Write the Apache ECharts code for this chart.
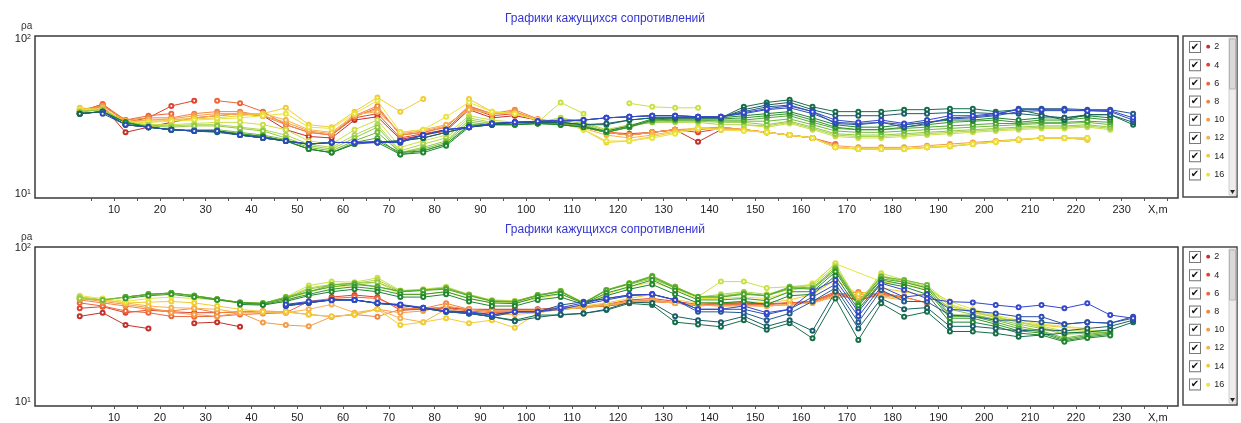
<!DOCTYPE html>
<html>
<head>
<meta charset="utf-8">
<script src="https://cdn.jsdelivr.net/npm/echarts@6/dist/echarts.min.js"></script>
<style>
html, body { margin: 0; padding: 0; background: #fff; }
#chart { width: 1241px; height: 423px; }
</style>
</head>
<body>
<div id="chart"></div>
<script>
// profile positions, m
var xs = [2.5, 7.5, 12.5, 17.5, 22.5, 27.5, 32.5, 37.5, 42.5, 47.5,
          52.5, 57.5, 62.5, 67.5, 72.5, 77.5, 82.5, 87.5, 92.5, 97.5,
          102.5, 107.5, 112.5, 117.5, 122.5, 127.5, 132.5, 137.5, 142.5, 147.5,
          152.5, 157.5, 162.5, 167.5, 172.5, 177.5, 182.5, 187.5, 192.5, 197.5,
          202.5, 207.5, 212.5, 217.5, 222.5, 227.5, 232.5];

var names = ['2', '4', '6', '8', '10', '12', '14', '16', '18', '20',
             '22', '24', '26', '28', '30', '32', '34', '36', '38', '40'];
var colors = ['#c4302c', '#e2422e', '#ec663a', '#f08440', '#f49c46', '#f5b24e', '#f2cc32', '#e8e43a', '#cce046', '#b0d64a',
              '#92ca44', '#72ba3c', '#50a834', '#34962c', '#1f8530', '#166e48', '#1a5f66', '#255a8e', '#2c4eb2', '#3446cc'];
var legendNames = names.slice(0, 8);

var xLabels = [10, 20, 30, 40, 50, 60, 70, 80, 90, 100, 110, 120, 130, 140, 150, 160, 170, 180, 190, 200, 210, 220, 230];
var xTicks = [5, 10, 15, 20, 25, 30, 35, 40, 45, 50, 55, 60, 65, 70, 75, 80, 85, 90, 95, 100, 105, 110, 115, 120,
              125, 130, 135, 140, 145, 150, 155, 160, 165, 170, 175, 180, 185, 190, 195, 200, 205, 210, 215, 220,
              225, 230, 235, 240];

// ---- upper panel, apparent resistivity
var top2 = [33,37,25,27,29,31,32,33,32,26,
  23.5,23,30,31.5,22.5,24,25.5,35,31,32,
  30,28,27,25,24,25,26,21.7,26,26,
  25,24,23,null,null,null,null,null,null,null,
  null,null,null,null,null,null,null];
var top4 = [34,38,29,31,37,40,null,null,null,null,
  null,24,31,33,23,24.5,26,36,32,33,
  30,28,27,25,24.5,25,26,25,26.5,26,
  25,24,23,null,null,null,null,null,null,null,
  null,null,null,null,null,null,null];
var top6 = [34,38,30,32,33,null,40,38.5,34,28,
  25,24,31.5,36,24,25,27,37,33,34,
  30,28.5,27,25,24,25,26,26,27,26,
  25,24,23,21,null,null,null,null,null,null,
  null,null,null,null,null,null,null];
var top8 = [35,37,30,31,31,33,34,34,32,28,
  25,24,32,37,24,25,27,36.5,33,35,
  30.5,29,27,25,24,25,26,26,27,26,
  25,24,23,20,19.5,19.5,19.5,20,20.3,21,
  21.7,22.3,23,23,22.5,null,null];
var top10 = [34,37,29.5,30,30.5,32,33,33,32,29,
  25.5,24.5,32,35,24.5,25.5,27.5,36,33,34,
  30,29,27,25,24,25,26,26.5,27,26,
  25,24,23,20.5,20,20,20,20.5,21,21.5,
  22,22.5,23,23,23,null,null];
var top12 = [35,36,29,30,30,31,32,33,33,30,
  26,25,32.5,34,25,26,28,35,33,33,
  30,29,26.5,24,23,24,25.5,26.5,26.5,26,
  25,24,23,20,19.5,19.5,19.5,20,20.3,21,
  21.7,22.3,23,23,22.5,null,null];
var top14 = [36,35,29.5,29,30,30.5,31,32,33,36,
  28,27,34,42,34,41,null,41,34,33,
  30,29,26,21.5,22,23.5,25,27,26,26,
  25,24,23,20,19.5,19.5,19.5,20,20.3,21,
  21.7,22.3,23,23,22.5,null,null];
var top16 = [35,35,29,29,29.5,30,30.5,31,32,33,
  27,26.5,33,40,25,26,31.5,39,34,33,
  30,29,26,22,22,23,24.5,26.5,26,25.5,
  25,24,23,20,19.5,19.5,19.5,20,20.5,21,
  21.7,22.5,23,23,23,null,null];
var top18 = [34,35,29,28,28,28.5,29,29,28,26,
  22,21,26,30,20,22,24,32,30,29,
  29,39,33,null,38.5,36.5,36,36,null,28,
  27,28.5,26,23.5,23,23,23.5,24,24.5,25,
  25.5,26,26.5,26.5,27,26,null];
var top20 = [34,35,29,28,27.5,28,28,27,26,24,
  21,20,24,28,19,21,23,31,29,29,
  29,31,29,26,28,29,29,29,28,28,
  27.5,29,26.5,24,23.5,23.5,24,24.5,25,25.5,
  26,26.5,27,27,27.5,26.5,null];
var top22 = [34,35,29,27.5,27,27.5,27.5,26.5,25.5,23,
  20.5,19.5,23,27,18.5,20,22,30,28.5,29,
  28.5,30,28.5,25.5,27.5,29,29.5,29.5,29,29,
  28,29.5,27,24.5,24,24,24.5,25,25.5,26,
  26.5,27,27.5,27.5,28,27,null];
var top24 = [33,34,29,27,26,26,26,25,24,22.5,
  20,19,22,25,18.5,19.5,21.5,29,28,28.5,
  28.5,29,28,25,27,29.5,30,30,29.5,29.5,
  29.5,30.5,28,25.5,25,25,25.5,26,26.5,27,
  27.5,28,28.5,28.5,29,28,null];
var top26 = [33,34,29,27,26,25.5,25.5,24.5,23.5,22,
  19.5,18.5,21.5,23,18,19,21,28,28,28,
  28.5,28.5,27.5,25,27,30,30,30,30,30,
  31,32,29,26.5,26,26,26.5,27,27.5,28,
  28.5,28.5,29,29,29.5,29,null];
var top28 = [33,34,29,27,26,25.5,25.5,24.5,23.5,22,
  19.5,18.5,21,22,18.5,19,21,27.5,28,28,
  28.5,28,27,25,27,30,30.5,30.5,30.5,31,
  32,33,30,27,26,26,27,28,29,29.5,
  30,29,30,30,31,30,null];
var top30 = [33,34,29,27,26,25.5,25.5,24,23.5,22,
  19.5,18.5,21,21.5,18,18.5,20.5,27,28,28,
  28.5,28,27,25.5,27.5,30.5,31,31,31,32,
  33,34,31,28,27,27,28,29,30,30,
  31,30,31,31,32,31,null];
var top32 = [33,34,28,27,26,25.5,25.5,24,23,22,
  21,21.5,21.5,21.7,22,23,25,27,28,29,
  29,29,28,28,30,31,31,31,31,36.5,
  39,40.5,36.5,34,34,34,35,35,35.5,35.5,
  34,35,32.5,30,32.5,32.5,28];
var top34 = [33,34,28,27,26,25.5,25,24,23,22,
  21,21.5,21.5,21.7,22,23,25,27,28,29,
  29,29,28,28.5,30,31,31,31,31,35,
  37.5,39,35,32,32,32,33,33,33.5,33.5,
  33,33,32,31,32.5,32.5,29];
var top36 = [null,34,28,27,26,25.5,25.5,24,23,22,
  21,21.5,21.5,21.5,21.5,24,26,27,28.5,29,
  29.5,29.5,30,31,31.5,32,32,31.5,31.5,34,
  36.5,37.5,34,28.5,28,29,27,28.5,31,31.5,
  32.5,35.5,35.5,35.5,35,35,33];
var top38 = [null,33,28,27,26,25.5,25.5,24,23,22,
  21,21.5,21.5,21.5,21.5,24,26,27,28.5,29,
  29.5,29.5,30,31,31.5,32,32,31.5,31.5,33,
  35,36,33,29,28.5,29,28,29,30.5,31,
  32,34,34.5,34.5,34.5,34,30];
var top40 = [null,null,null,null,null,null,null,null,null,null,
  null,21.5,21.5,21.5,22,24,26,27,28.5,29,
  29.5,30,30,31,31.5,32,32,31.5,31.5,33.5,
  35.5,37,34,30,29,30,28.5,30,32,32,
  33,35,35,35,34.5,34.5,31];

// ---- lower panel, apparent resistivity
var bot2 = [36,38,31.6,30,null,32.5,33,30.8,null,null,
  null,null,null,null,39.5,40,41,40,40,40,
  40,41,41.5,42,44,45,44,42.6,43.7,44,
  43,44,44.8,50,46,50,48,null,null,null,
  null,null,null,null,null,null,null];
var bot4 = [40.6,41.6,38,39.5,38.5,38,38,38.5,38.5,38.5,
  null,48,49.5,48,39.5,40.6,41,40,39,39,
  39,40,41,43,46,47,45,43,43.7,44,
  43.5,44,45,52,45,52,47,null,null,null,
  null,null,null,null,null,null,null];
var bot6 = [44,42,39,38,36,35.8,36,37,37.5,38,
  45,47,48,47,41,40,40.5,39,38,38.5,
  39,40,41,42,44,45,44,42,43,43,
  43,44,45,51,48,51,48,44,null,null,
  null,null,null,null,null,null,null];
var bot8 = [46,44,42,40,39,40.6,38,38.5,39,38.5,
  37,35.8,37,35.8,40,40.5,43.7,40,38.5,38.5,
  38.5,40,41.5,43,45,46,44,42.6,42.5,42.5,
  42,43,44.8,50,51.7,50,48,44,null,null,
  null,null,null,null,null,null,null];
var bot10 = [47,45,43,41,38,37,36,38,32.8,31.6,
  31,35.8,37,40,38,39,42,40,39,39,
  39.5,40.5,41.5,43,45,46,44,43,42,42.5,
  42,43,44,49,50,49,47,null,null,null,
  null,null,null,null,null,null,null];
var bot12 = [47,46,44,42,41,40.6,40,38,38,38,
  40,43,38,40,35,33,40,38,37,37,
  38,40,41,42.5,44,45,44,42.5,42,42,
  42,43,44,48,48,48,46,null,null,null,
  null,null,null,null,null,null,null];
var bot14 = [48,46,44,44.5,45,44,42,40,38.5,38.5,
  37,36,37,40,31.6,33,35,32.5,34,30.3,
  38,40,42,44,47,50,46,44,44,45,
  44,46,50,62,50,55,52,49,41.6,38,
  35.5,33,31.5,30.5,30,null,null];
var bot16 = [49,47,45,47,48,47,46,44,43,45,
  52,56,57,60,50,50,52,47,44,44,
  47,50,44,50,56,60,54,47,47,48,
  47,52,59,79,null,60.5,58,54,45,40,
  36.5,34,32,31,30,null,null];
var bot18 = [48,46,48,50,51,49,46.5,44.3,43.7,48,
  57,60.5,60,64,53,54,56,50,46,45.5,
  49,52.5,44.5,53.4,59,65,56,48.3,60.5,60.5,
  55,56,58,79.5,44,68.5,62,57.5,43,39,
  36,33,31,29,29,29.4,null];
var bot20 = [48,46,48,50,51,49,46.5,44.3,43.7,47.5,
  55,58,59,62,52.5,53.4,55,49.5,45.3,44.8,
  49.5,52.5,43.7,53.4,59,64,56,48,50,52,
  50,55,57,76,45,66,61,56,42,38.5,
  35.5,33,30.5,28,28.5,29,null];
var bot22 = [47,46,48,50,51,49,46.5,44,43.5,47,
  54,57.5,59,60,52,53,55,49.5,45.5,45,
  49.5,52,44,53,58,63,55,48,49,50.8,
  49,54,55,74,44,65,60,55,40,37,
  34.5,32,30,27.5,28,28.5,null];
var bot24 = [null,46,48,50,51,49,46.5,44.3,43.7,48,
  52,57.5,59,56,52.5,53.4,55,49.5,45.3,44.8,
  49.5,52.5,43.7,53.4,59,66,56,48.3,48,50.8,
  49,56,55,73.8,43.7,65,62,57.5,36.7,36.7,
  34,31,29,26,27.5,28.5,null];
var bot26 = [null,null,48,50,51,49,46.5,44.3,43.7,47,
  52,56,58,56,52,53,54,49,45,44.5,
  49,52,44,53,58.5,65,55,48,48,50,
  49,55,54,72,43,63,60,55,36,36,
  33,30,28.5,25.5,27,28,null];
var bot28 = [null,null,47,49,50,48,46,44,43,46,
  50,54,56,54,50,50,52,47,44,43.5,
  48,50.5,43.5,51,56,62,53,46,46,47,
  45.5,52,52,70,42,62,58,53,35,35,
  32,29,28,25,26.5,27.5,null];
var bot30 = [null,null,null,null,null,null,null,43,42.6,45,
  49,52,54,52,48,48,50,45,42,42,
  46,48,43,49,54,58,50,44,44,45,
  43,49,50,66,40,60,56,50,33,33,
  31,28,27.2,24.6,26,27,null];
var bot32 = [null,null,null,null,null,null,null,null,null,42.6,
  44.3,46,46,43.7,42.6,40.6,38.5,37.6,35.8,34,
  36.7,36.7,37.6,39.5,43.7,42.6,33,31.9,30.8,34,
  29.4,32.5,25.9,47,25.3,43.7,35.8,38.5,28.7,28.7,
  27.9,26.5,27.2,28,28.5,29.4,33];
var bot34 = [null,null,null,null,null,null,null,null,null,42,
  44,46,46,43.7,42.6,40.6,38.5,37.6,35.8,33.5,
  35.5,37,37.6,40,44.5,44,36,34,33,36,
  31,34,29,52,30,47,40,41,31,31,
  30,29,29.5,29,30,31,34];
var bot36 = [null,null,null,null,null,null,null,null,null,42.6,
  44.3,46,46,43.7,42.6,40.6,38.5,37.6,35.8,38.5,
  38.5,42.6,44.8,47,49.5,50,46,38.5,38.5,38,
  34,37.6,45,55,33,53.4,45,44.8,36.7,36,
  34,34,33,32,33,32.5,35];
var bot38 = [null,null,null,null,null,null,null,null,null,42,
  44,46,46,43.7,42.6,41,39,38,36.7,38.5,
  38.5,40,43,46,49,50,46,40,40,40,
  37,40,48,58,36,56,48,50,40,39,
  37.6,35.8,35.8,32,33,32.5,35.8];
var bot40 = [null,null,null,null,null,null,null,null,null,43,
  45,46,46,44,43,41,39,38.5,37,38.5,
  38.5,41,44,47,49.5,50,46,40,40,42,
  38,40,52.5,62,38.5,59,53.4,47,44.8,44.3,
  42.6,41.2,42.6,40.6,43.7,36.7,35];

var topSets = [top2, top4, top6, top8, top10, top12, top14, top16, top18, top20,
               top22, top24, top26, top28, top30, top32, top34, top36, top38, top40];
var botSets = [bot2, bot4, bot6, bot8, bot10, bot12, bot14, bot16, bot18, bot20,
               bot22, bot24, bot26, bot28, bot30, bot32, bot34, bot36, bot38, bot40];
// series whose line is drawn across a missing reading
var bridged = { 'bot16': true };

topSets.concat(botSets).forEach(function (a, k) {
    if (a.length !== xs.length) throw new Error('array ' + k + ' has ' + a.length + ' values');
});

var titleText = 'Графики кажущихся сопротивлений';
var yName = 'ρa';
var font = 'Liberation Sans, Arial, sans-serif';

function makeSeries(vals, k, panel, bridge) {
    return {
        name: names[k],
        type: 'line',
        xAxisIndex: panel,
        yAxisIndex: panel,
        data: xs.map(function (x, i) { return [x, vals[i] == null ? '-' : vals[i]]; }),
        symbol: 'emptyCircle',
        symbolSize: 4,
        connectNulls: !!bridge,
        silent: true,
        lineStyle: { width: 1, color: colors[k] },
        itemStyle: { color: colors[k], borderWidth: 1 },
        emphasis: { disabled: true }
    };
}

var series = [];
topSets.forEach(function (v, k) { series.push(makeSeries(v, k, 0, false)); });
botSets.forEach(function (v, k) { series.push(makeSeries(v, k, 1, bridged['bot' + names[k]])); });

var rich = {
    cb: { width: 10, height: 10, borderColor: '#7a7a7a', borderWidth: 1, backgroundColor: '#fff',
          align: 'center', fontSize: 10, fontWeight: 'bold', color: '#111', lineHeight: 14, fontFamily: 'DejaVu Sans' },
    t: { fontSize: 9, color: '#222', lineHeight: 14, padding: [0, 0, 0, 4], fontFamily: font }
};
legendNames.forEach(function (n, i) {
    rich['d' + i] = { fontSize: 5, color: colors[i], lineHeight: 14, padding: [0, 0, 0, 6], fontFamily: 'DejaVu Sans' };
});

function makeLegend(top) {
    return {
        data: legendNames,
        orient: 'vertical',
        left: 1185,
        top: top,
        padding: 0,
        itemGap: 5.2,
        icon: 'none',
        itemWidth: 0,
        itemHeight: 14,
        selectedMode: false,
        z: 10,
        formatter: function (name) {
            var i = legendNames.indexOf(name);
            return '{cb|✔}{d' + i + '|●}{t|' + name + '}';
        },
        textStyle: { rich: rich }
    };
}

function makeXAxis(idx) {
    return {
        type: 'value',
        gridIndex: idx,
        min: -7.27,
        max: 242.3,
        axisLine: { show: false, onZero: false },
        axisTick: { show: true, customValues: xTicks, length: 3, lineStyle: { color: '#555' } },
        axisLabel: { customValues: xLabels, fontSize: 11, color: '#222', margin: 6, fontFamily: font },
        splitLine: { show: false },
        name: 'X,m',
        nameLocation: 'end',
        nameGap: -30,
        nameMoveOverlap: false,
        nameTextStyle: { fontSize: 11, color: '#222', verticalAlign: 'top', padding: [6, 0, 0, 0], fontFamily: font }
    };
}

function makeYAxis(idx, lo, hi) {
    return {
        type: 'log',
        logBase: 10,
        gridIndex: idx,
        min: lo,
        max: hi,
        axisLine: { show: false },
        axisTick: { show: false },
        splitLine: { show: false },
        minorTick: { show: false },
        axisLabel: {
            margin: 4,
            fontSize: 11,
            color: '#222',
            fontFamily: font,
            showMinLabel: false,
            showMaxLabel: false,
            formatter: function (v) {
                if (Math.abs(v - 100) < 1) return '10{s|2}';
                if (Math.abs(v - 10) < 0.1) return '10{s|1}';
                return '';
            },
            rich: { s: { fontSize: 7, verticalAlign: 'top', color: '#222', fontFamily: font } }
        }
    };
}

function legendFrame(y, h) {
    return [
        { type: 'rect', z: 1, shape: { x: 1183, y: y, width: 54, height: h },
          style: { fill: '#fff', stroke: '#4a4a4a', lineWidth: 1.5 } },
        { type: 'rect', z: 2, shape: { x: 1229, y: y + 2, width: 7, height: h - 4 },
          style: { fill: '#ededed', stroke: '#cfcfcf', lineWidth: 1 } },
        { type: 'rect', z: 3, shape: { x: 1229.5, y: y + 3, width: 6, height: 50 },
          style: { fill: '#d9d9d9', stroke: '#b5b5b5', lineWidth: 1 } },
        { type: 'polygon', z: 3, shape: { points: [[1230, y + h - 7], [1235, y + h - 7], [1232.5, y + h - 3]] },
          style: { fill: '#222' } }
    ];
}

// y-axis name, placed above the labels as in the original plot
function axisNameText(y) {
    return { type: 'text', z: 5, left: 21, top: y,
             style: { text: yName, fontSize: 10, fill: '#333', fontFamily: font } };
}

var chart = echarts.init(document.getElementById('chart'), null, { renderer: 'canvas' });
chart.setOption({
    animation: false,
    backgroundColor: '#fff',
    title: [
        { text: titleText, left: 605, top: 13, padding: 0, textAlign: 'center',
          textStyle: { fontSize: 12, fontWeight: 'normal', color: '#3434d4', fontFamily: font } },
        { text: titleText, left: 605, top: 224, padding: 0, textAlign: 'center',
          textStyle: { fontSize: 12, fontWeight: 'normal', color: '#3434d4', fontFamily: font } }
    ],
    grid: [
        { left: 35, top: 36, width: 1143, height: 162, show: true, borderColor: '#3a3a3a', borderWidth: 1.5, backgroundColor: '#fff' },
        { left: 35, top: 247, width: 1143, height: 159, show: true, borderColor: '#3a3a3a', borderWidth: 1.5, backgroundColor: '#fff' }
    ],
    xAxis: [makeXAxis(0), makeXAxis(1)],
    yAxis: [makeYAxis(0, 9.423, 104.6), makeYAxis(1, 9.42, 101.5)],
    legend: [makeLegend(40), makeLegend(250)],
    graphic: legendFrame(36, 161).concat(legendFrame(247, 158), [axisNameText(21), axisNameText(232)]),
    series: series
});
</script>
</body>
</html>
